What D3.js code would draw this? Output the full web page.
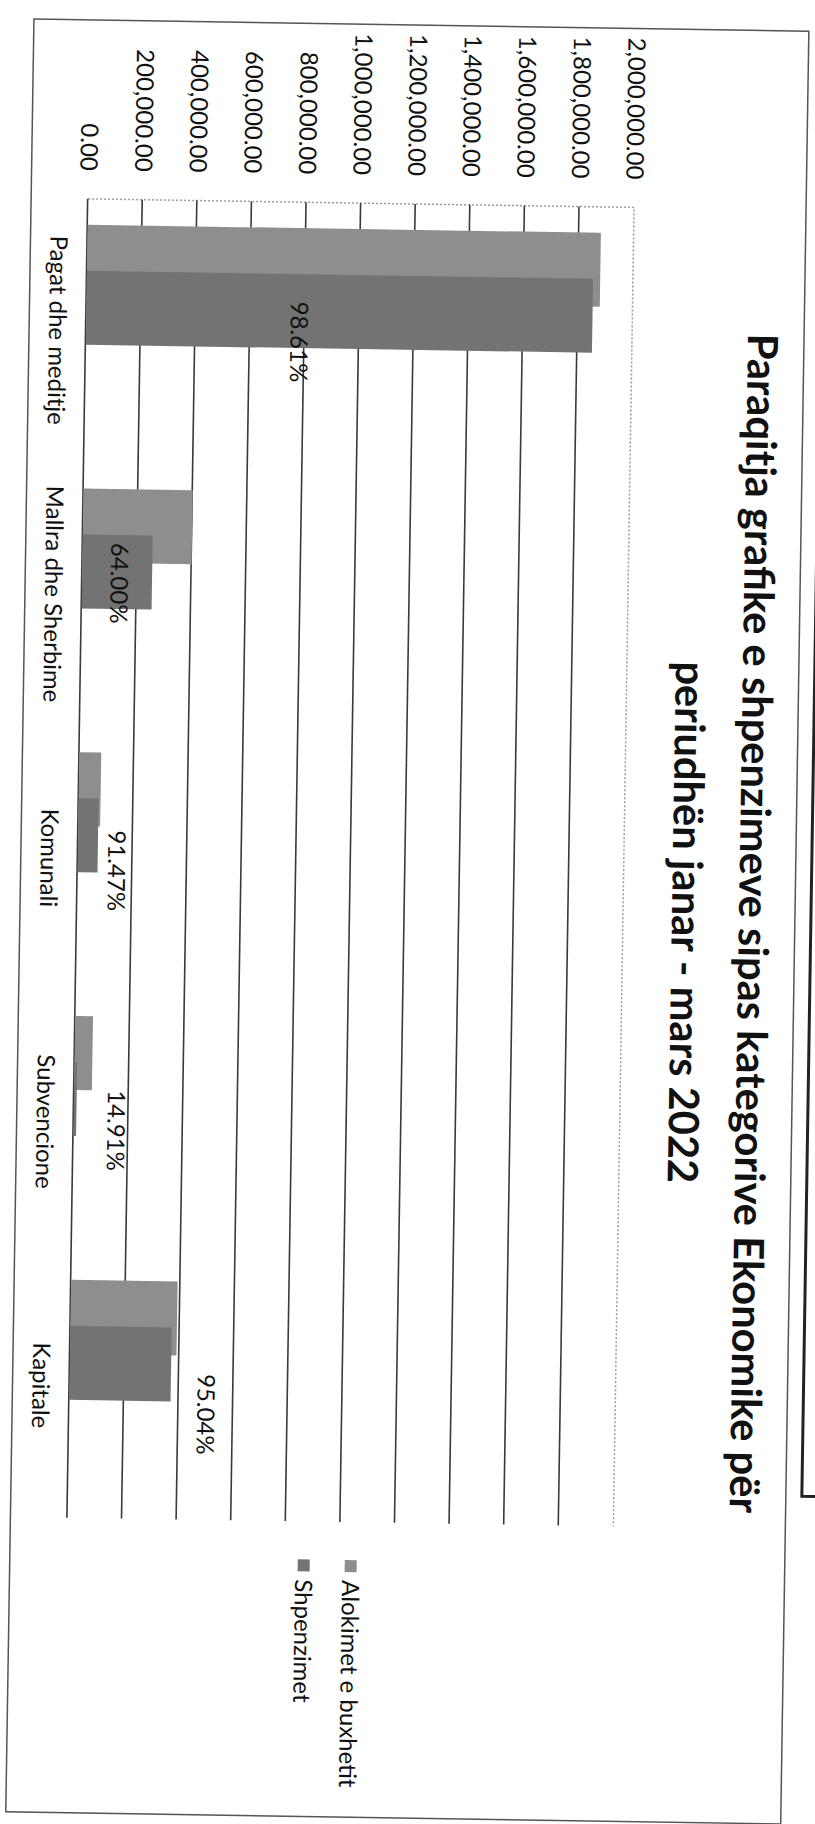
<!DOCTYPE html>
<html>
<head>
<meta charset="utf-8">
<script src="https://cdn.jsdelivr.net/npm/d3@7"></script>
<style>
  body { margin: 0; background: #fff; overflow: hidden; }
</style>
</head>
<body>
<div id="chart"></div>
<script>
// data
const kategorite = ["Pagat dhe meditje", "Mallra dhe Sherbime", "Komunali", "Subvencione", "Kapitale"];
const seriet = ["Alokimet e buxhetit", "Shpenzimet"];
const alokimet = [1880000, 400000, 80000, 65000, 390000];
const shpenzimet = [1854000, 256000, 73000, 9700, 371000];
const perqindjet = ["98.61%", "64.00%", "91.47%", "14.91%", "95.04%"];
const vleratBoshtit = [0, 200000, 400000, 600000, 800000, 1000000, 1200000, 1400000, 1600000, 1800000, 2000000];
const titulli = ["Paraqitja grafike e shpenzimeve sipas kategorive Ekonomike për", "periudhën janar - mars 2022"];

// the % labels were dragged by hand: [value on axis, fraction of the category band]
const labelPlacement = [[780000, 0.53], [135000, 0.455], [142000, 0.545], [155000, 0.53], [500000, 0.60]];

// the chart is printed sideways: build it in its own frame, then turn it onto the page
var pageW = 815, pageH = 1824;
var plot = {left: 204, right: 1523, top: 192, bottom: 738};

var svg = d3.select("#chart")
    .append("svg")
    .attr("width", pageW)
    .attr("height", pageH);

svg.append("rect").attr("width", pageW).attr("height", pageH).attr("fill", "#fff");

// the scan is a little crooked
var page = svg.append("g").attr("transform", "rotate(0.9, 410, 910)");

// edge of the next box on the page
page.append("path")
    .attr("d", "M811,-30 V1490 H840")
    .attr("fill", "none")
    .attr("stroke", "#222")
    .attr("stroke-width", 3);

var chart = page.append("g").attr("transform", "translate(" + pageW + ",0) rotate(90)");

// chart border
chart.append("rect")
    .attr("x", 25).attr("y", 20)
    .attr("width", 1793).attr("height", 775)
    .attr("fill", "none")
    .attr("stroke", "#555")
    .attr("stroke-width", 1.5);

const xScale = d3.scaleBand()
    .domain(kategorite)
    .range([plot.left, plot.right]);

const yScale = d3.scaleLinear()
    .domain([0, 2000000])
    .range([plot.bottom, plot.top]);

// plot area outline (dotted in the print)
chart.append("path")
    .attr("d", "M" + plot.left + "," + plot.bottom + "V" + plot.top + "H" + plot.right)
    .attr("fill", "none")
    .attr("stroke", "#9a9a9a")
    .attr("stroke-width", 1.5)
    .attr("stroke-dasharray", "2,2");

// gridlines + value labels
var yAxis = chart.append("g")
    .attr("transform", "translate(" + plot.left + ",0)")
    .call(d3.axisLeft(yScale)
        .tickValues(vleratBoshtit)
        .tickFormat(d3.format(",.2f"))
        .tickSize(-(plot.right - plot.left))
        .tickPadding(28));
yAxis.select(".domain").remove();
yAxis.selectAll("line")
    .attr("stroke", d => d == 2000000 ? "none" : "#3a3a3a")
    .attr("stroke-width", 1.6);
yAxis.selectAll("text")
    .attr("font-family", "Lato, sans-serif")
    .attr("font-size", 24)
    .attr("fill", "#111");

// excel style cluster: 4 slots (two series are empty), 38% overlap, 70% gap width
var nSlots = 4, overlap = 0.378, gapWidth = 0.70;
var barW = xScale.bandwidth() / (nSlots - (nSlots - 1) * overlap + gapWidth);
var slotX = s => gapWidth * barW / 2 + s * barW * (1 - overlap);

var ngjyrat = ["#8e8e8e", "#737373"];
[alokimet, shpenzimet].forEach(function(vals, s) {
    chart.append("g")
        .selectAll("rect")
        .data(kategorite)
        .join("rect")
        .attr("x", (d, i) => xScale(d) + slotX(s))
        .attr("y", (d, i) => yScale(vals[i]))
        .attr("width", barW)
        .attr("height", (d, i) => yScale(0) - yScale(vals[i]))
        .attr("fill", ngjyrat[s]);
});

// percentage labels
chart.append("g")
    .selectAll("text")
    .data(perqindjet)
    .join("text")
    .text(d => d)
    .attr("x", (d, i) => xScale(kategorite[i]) + labelPlacement[i][1] * xScale.bandwidth())
    .attr("y", (d, i) => yScale(labelPlacement[i][0]))
    .attr("dy", "0.35em")
    .attr("text-anchor", "middle")
    .attr("font-family", "Lato, sans-serif")
    .attr("font-size", 24)
    .attr("fill", "#111");

// category labels
var xAxis = chart.append("g")
    .attr("transform", "translate(0," + plot.bottom + ")")
    .call(d3.axisBottom(xScale).tickSize(0).tickPadding(20));
xAxis.select(".domain").remove();
xAxis.selectAll("text")
    .attr("font-family", "Lato, sans-serif")
    .attr("font-size", 24)
    .attr("fill", "#111");

// legend
var legendY = [454, 501];
var legend = chart.append("g")
    .selectAll("g")
    .data(seriet)
    .join("g")
    .attr("transform", (d, i) => "translate(1561," + legendY[i] + ")");
legend.append("rect")
    .attr("x", 0).attr("y", -6)
    .attr("width", 12).attr("height", 12)
    .attr("fill", (d, i) => ngjyrat[i]);
legend.append("text")
    .text(d => d)
    .attr("x", 20)
    .attr("dy", "0.35em")
    .attr("font-family", "Lato, sans-serif")
    .attr("font-size", 24)
    .attr("fill", "#111");

// title, sized so the first line spans the same width as the print
var titleY = [76, 143];
var title = chart.append("g")
    .selectAll("text")
    .data(titulli)
    .join("text")
    .text(d => d)
    .attr("x", 918)
    .attr("y", (d, i) => titleY[i])
    .attr("text-anchor", "middle")
    .attr("font-family", "Lato, sans-serif")
    .attr("font-weight", "bold")
    .attr("font-size", 40)
    .attr("fill", "#111");
var len = title.node().getComputedTextLength();
title.attr("font-size", 40 * 1180 / len);
</script>
</body>
</html>
